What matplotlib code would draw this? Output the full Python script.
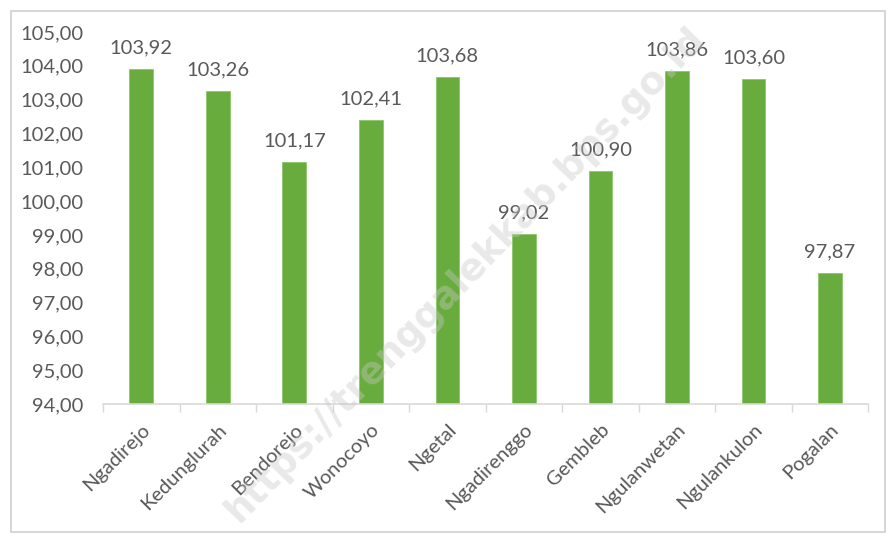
import matplotlib.pyplot as plt
from matplotlib.patches import Rectangle

# Data
desa = ["Ngadirejo", "Kedunglurah", "Bendorejo", "Wonocoyo", "Ngetal",
        "Ngadirenggo", "Gembleb", "Ngulanwetan", "Ngulankulon", "Pogalan"]
nilai = [103.92, 103.26, 101.17, 102.41, 103.68, 99.02, 100.90, 103.86, 103.60, 97.87]
y_ticks = [94, 95, 96, 97, 98, 99, 100, 101, 102, 103, 104, 105]

plt.rcParams['font.family'] = ['Lato', 'DejaVu Sans']
text_col = "#595959"
bar_col = "#67AC3C"

fig = plt.figure(figsize=(8.96, 5.38), dpi=100)
ax = fig.add_axes([0.115, 0.249, 0.854, 0.6915])

x = range(len(desa))
ax.bar(x, nilai, width=0.31, color=bar_col, edgecolor="#8cc66a", linewidth=0.6, zorder=2)

for xi, v in zip(x, nilai):
    ax.annotate(f"{v:.2f}".replace(".", ","), (xi, v), xytext=(0, 9),
                textcoords="offset points", ha="center", va="bottom",
                fontsize=14.5, color=text_col)

ax.set_ylim(94, 105)
ax.set_xlim(-0.5, len(desa) - 0.5)
ax.set_yticks(y_ticks)
ax.set_yticklabels([f"{t:.2f}".replace(".", ",") for t in y_ticks], fontsize=14.5, color=text_col)
ax.tick_params(axis="y", length=0, pad=14)

# category labels, ticks between categories
ax.set_xticks(list(x))
ax.set_xticklabels(desa, rotation=45, ha="right", rotation_mode="anchor",
                   fontsize=14.5, color=text_col)
ax.tick_params(axis="x", length=0, pad=12)
ax.set_xticks([i - 0.5 for i in range(len(desa) + 1)], minor=True)
ax.tick_params(axis="x", which="minor", length=6, color="#d9d9d9", width=1)

for s in ["top", "right", "left"]:
    ax.spines[s].set_visible(False)
ax.spines["bottom"].set_color("#d9d9d9")
ax.spines["bottom"].set_linewidth(1.2)

# watermark
fig.text(0.52, 0.49, "https://trenggalekkab.bps.go.id", rotation=46, fontsize=27,
         fontweight="bold", color="#c8c8c8", alpha=0.4, ha="center", va="center",
         family="DejaVu Sans", zorder=10)

# outer border
fig.patches.append(Rectangle((0.012, 0.012), 0.976, 0.968, transform=fig.transFigure,
                             fill=False, edgecolor="#d0d0d0", linewidth=1.2))

fig.savefig("out.png", dpi=100)
